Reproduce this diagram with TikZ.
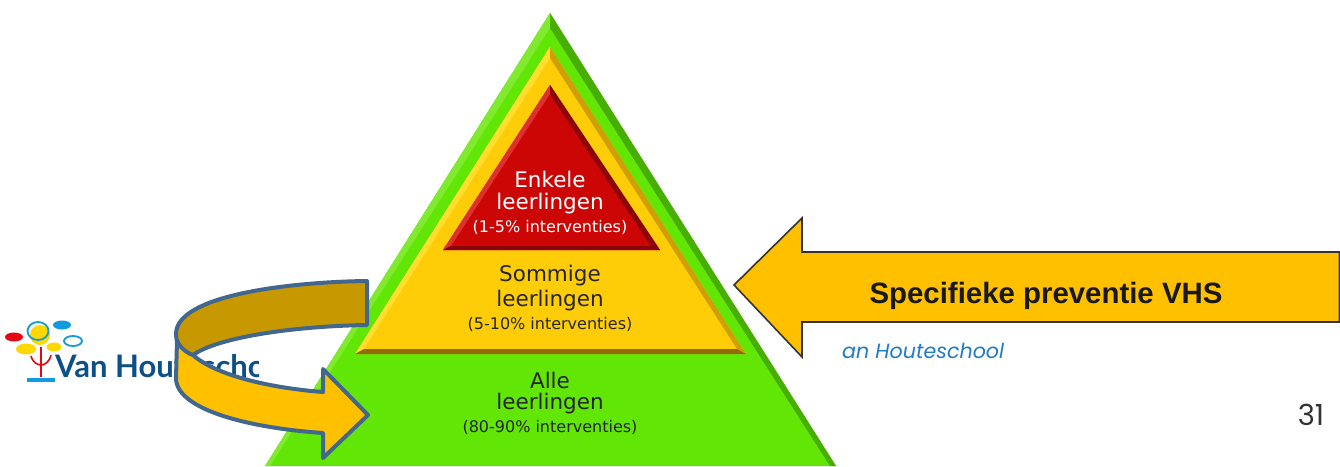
\documentclass[tikz,border=0pt]{standalone}
\usepackage{fontspec}
\setmainfont{DejaVu Sans}
\newfontfamily\logofont{Lato}
\newfontfamily\arrowfont{Liberation Sans}
\newfontfamily\geofont{Poppins}
\definecolor{pgreen}{HTML}{62E606}
\definecolor{pgreenL}{HTML}{7FEA2E}
\definecolor{pgreenD}{HTML}{48AE05}
\definecolor{pyellow}{HTML}{FFCC08}
\definecolor{pyellowL}{HTML}{FFDE30}
\definecolor{pyellowD}{HTML}{CFA005}
\definecolor{pyellowB}{HTML}{8F6C05}
\definecolor{pred}{HTML}{CC0505}
\definecolor{predL}{HTML}{DF3030}
\definecolor{predD}{HTML}{8A0404}
\definecolor{arrowfill}{HTML}{FFC000}
\definecolor{arrowdark}{HTML}{C89800}
\definecolor{arrowline}{HTML}{41678F}
\definecolor{logoblue}{HTML}{0E4F86}
\definecolor{skyblue}{HTML}{0F9BDD}
\definecolor{logored}{HTML}{E30613}
\definecolor{logoyellow}{HTML}{FFD800}
\definecolor{caption}{HTML}{1F7BC4}
\tikzset{
  lineBig/.style={font=\fontsize{21.5}{22}\selectfont, inner sep=0pt, anchor=center},
  lineSmall/.style={font=\fontsize{16}{16}\selectfont, inner sep=0pt, anchor=center},
  band/.style={draw=arrowline, line width=4pt, line join=round},
  blob/.style={fill=#1, draw=none},
  ring/.style={draw=skyblue, line width=1.8pt, fill=none},
}
\begin{document}
\begin{tikzpicture}[x=1pt,y=-1pt]
\useasboundingbox (0,0) rectangle (1340,466);
\fill[white] (0,0) rectangle (1340,466);

% logo
\begin{scope}
\clip (0,300) rectangle (258,400);
\node[font=\logofont\bfseries\fontsize{31}{31}\selectfont, text=logoblue, anchor=base west, inner sep=0pt] (logotext) at (55,377) {Van Houteschool};
\end{scope}
\fill[blob=logored] (14,337) ellipse [x radius=9, y radius=4.5];
\fill[blob=logoyellow] (26,349) ellipse [x radius=10, y radius=5.5];
\fill[blob=logoyellow] (54,347) ellipse [x radius=7.5, y radius=4.5];
\fill[blob=logoyellow] (40,335) ellipse [x radius=10, y radius=10];
\draw[ring] (38,331) ellipse [x radius=10.5, y radius=9];
\fill[blob=skyblue] (62,325) ellipse [x radius=9, y radius=4.5];
\draw[ring] (73,341) ellipse [x radius=9, y radius=5];
\draw[logored, line width=1.6pt] (41,347) -- (41,377);
\draw[logored, line width=1.6pt] (31,356) .. controls (33,363) and (38,365) .. (41,365) .. controls (44,365) and (49,363) .. (51,355);
\fill[skyblue] (27,378) rectangle (55,382);

% pyramid outer
\fill[pgreen] (550,13) -- (836,466) -- (265,466) -- cycle;
\fill[pgreenD] (550,13) -- (836,466) -- (830,466) -- (550,28) -- cycle;
\fill[pgreenL] (550,13) -- (265,466) -- (270,466) -- (550,28) -- cycle;
% middle
\fill[pyellow] (550,47) -- (746,354) -- (355,354) -- cycle;
\fill[pyellowL] (550,47) -- (355,354) -- (364,349) -- (550,58) -- cycle;
\fill[pyellowD] (550,47) -- (746,354) -- (737,349) -- (550,58) -- cycle;
\fill[pyellowB] (355,354) -- (746,354) -- (737,349) -- (364,349) -- cycle;
% top
\fill[pred] (550,85) -- (660,250) -- (443,250) -- cycle;
\fill[predL] (550,85) -- (443,250) -- (451,246) -- (550,94) -- cycle;
\fill[predD] (550,85) -- (660,250) -- (651,246) -- (550,94) -- cycle;
\fill[predD] (443,250) -- (660,250) -- (651,246) -- (451,246) -- cycle;

% labels
\node[lineBig, text=white] (t1) at (550,179) {Enkele};
\node[lineBig, text=white] (t2) at (550,204) {leerlingen};
\node[lineSmall, text=white] (t3) at (550,227) {(1-5\% interventies)};
\node[lineBig, text=black!85] (m1) at (550,276) {Sommige};
\node[lineBig, text=black!85] (m2) at (550,301) {leerlingen};
\node[lineSmall, text=black!85] (m3) at (550,324) {(5-10\% interventies)};
\node[lineBig, text=black!85] (b1) at (550,380) {Alle};
\node[lineBig, text=black!85] (b2) at (550,404) {leerlingen};
\node[lineSmall, text=black!85] (b3) at (550,427) {(80-90\% interventies)};

% curved arrow
\draw[band, fill=arrowdark] (367,281) .. controls (290,282) and (176,295) .. (176,334)
  .. controls (176,340) and (178,345) .. (182,350)
  .. controls (190,355) and (193,355) .. (193,355)
  .. controls (220,336) and (300,326) .. (367,325) -- cycle;
\draw[band, fill=arrowfill] (177,340) .. controls (178,346) and (188,354) .. (193,355)
  .. controls (215,375) and (270,388) .. (323,392)
  -- (323,369) -- (368,415) -- (323,458) -- (323,433)
  .. controls (250,428) and (176,410) .. (176,378) -- cycle;

% big arrow
\draw[draw=black!80, line width=1.6pt, fill=arrowfill, line join=miter] (734,285) -- (802,218) -- (802,252) -- (1339.5,252) -- (1339.5,322) -- (802,322) -- (802,357) -- cycle;
\node[font=\arrowfont\bfseries\fontsize{29.4}{30}\selectfont, text=black!90, inner sep=0pt] (vhs) at (1046,296) {Specifieke preventie VHS};

% caption
\node[font=\geofont\itshape\fontsize{20.6}{21}\selectfont, text=caption, anchor=base west, inner sep=0pt] (cap) at (842,358) {an Houteschool};
\node[font=\geofont\fontsize{29}{30}\selectfont, text=black!80, inner sep=0pt] (page) at (1311,415) {31};
\end{tikzpicture}
\end{document}
